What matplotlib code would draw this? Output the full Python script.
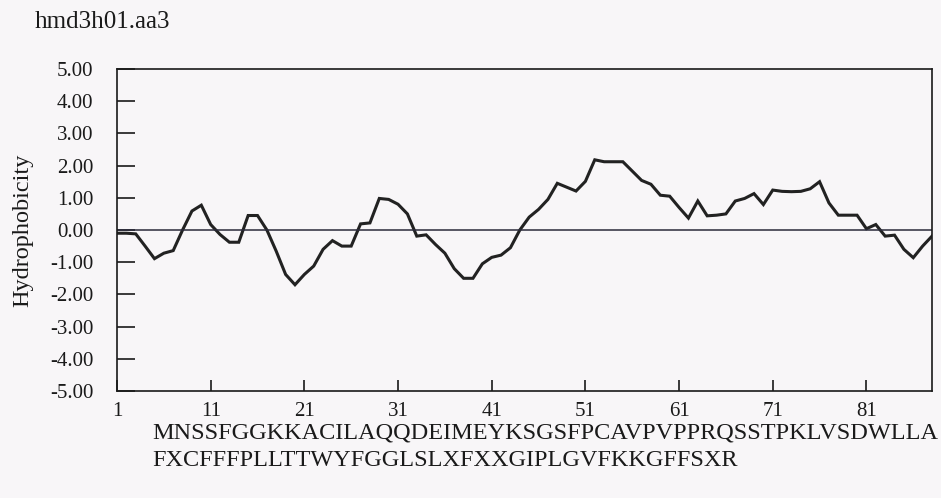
import matplotlib
matplotlib.use("Agg")
import matplotlib.pyplot as plt
import numpy as np

title = "hmd3h01.aa3"
ylabel = "Hydrophobicity"
sequence_line1 = "MNSSFGGKKACILAQQDEIMEYKSGSFPCAVPVPPRQSSTPKLVSDWLLA"
sequence_line2 = "FXCFFFPLLTTWYFGGLSLXFXXGIPLGVFKKGFFSXR"

positions = list(range(1, 89))
hydrophobicity = [
    -0.10, -0.10, -0.12, -0.50, -0.89, -0.72, -0.64, 0.00, 0.59, 0.77,
    0.17, -0.14, -0.38, -0.38, 0.45, 0.45, 0.00, -0.66, -1.38, -1.70,
    -1.38, -1.12, -0.60, -0.33, -0.50, -0.50, 0.19, 0.22, 0.98, 0.95,
    0.80, 0.50, -0.19, -0.15, -0.45, -0.72, -1.20, -1.50, -1.50, -1.05,
    -0.85, -0.78, -0.55, 0.00, 0.40, 0.64, 0.95, 1.45, 1.33, 1.21,
    1.51, 2.18, 2.12, 2.12, 2.12, 1.83, 1.54, 1.42, 1.08, 1.05,
    0.70, 0.37, 0.90, 0.44, 0.46, 0.50, 0.90, 0.98, 1.13, 0.79,
    1.24, 1.20, 1.19, 1.20, 1.28, 1.50, 0.84, 0.46, 0.46, 0.46,
    0.04, 0.17, -0.19, -0.16, -0.60, -0.86, -0.50, -0.19,
]
xticks = [1, 11, 21, 31, 41, 51, 61, 71, 81]
yticks = [5, 4, 3, 2, 1, 0, -1, -2, -3, -4, -5]
ytick_labels = ["%.2f" % v for v in yticks]

plt.rcParams['font.family'] = ['Liberation Serif', 'DejaVu Serif']

W, H = 941, 498
bg = '#f8f6f8'
fig = plt.figure(figsize=(W / 100, H / 100), dpi=100, facecolor=bg)
ax = fig.add_axes([117 / W, 1 - 391 / H, (932 - 117) / W, (391 - 69) / H])
ax.set_facecolor(bg)

ax.plot(positions, hydrophobicity, color='#222222', lw=2.2, solid_joinstyle='miter')
ax.axhline(0, color='#2a2a3a', lw=1.1)

ax.set_xlim(1, 88)
ax.set_ylim(-5, 5)
ax.set_yticks(yticks)
ax.set_yticklabels(ytick_labels)
ax.set_xticks(xticks)
ax.set_xticklabels([str(v) for v in xticks])

for s in ax.spines.values():
    s.set_linewidth(1.2)
    s.set_color('#1a1a1a')

ax.tick_params(axis='y', direction='in', length=13, width=1.2, pad=17,
               labelsize=15, colors='#1a1a1a')
ax.tick_params(axis='x', direction='in', length=8, width=1.2, pad=8,
               labelsize=15, colors='#1a1a1a')

ax.set_ylabel(ylabel, fontsize=17.5, color='#1a1a1a')
ax.yaxis.set_label_coords(-84 / (932 - 117), 0.5)

fig.text(35 / W, 1 - 22 / H, title, fontsize=18, ha='left', va='center', color='#1a1a1a')
fig.text(152 / W, 1 - 433 / H, sequence_line1, fontsize=17.5, ha='left', va='center', color='#1a1a1a')
fig.text(152 / W, 1 - 460 / H, sequence_line2, fontsize=17.5, ha='left', va='center', color='#1a1a1a')

fig.savefig("out.png", dpi=100, facecolor=bg)
